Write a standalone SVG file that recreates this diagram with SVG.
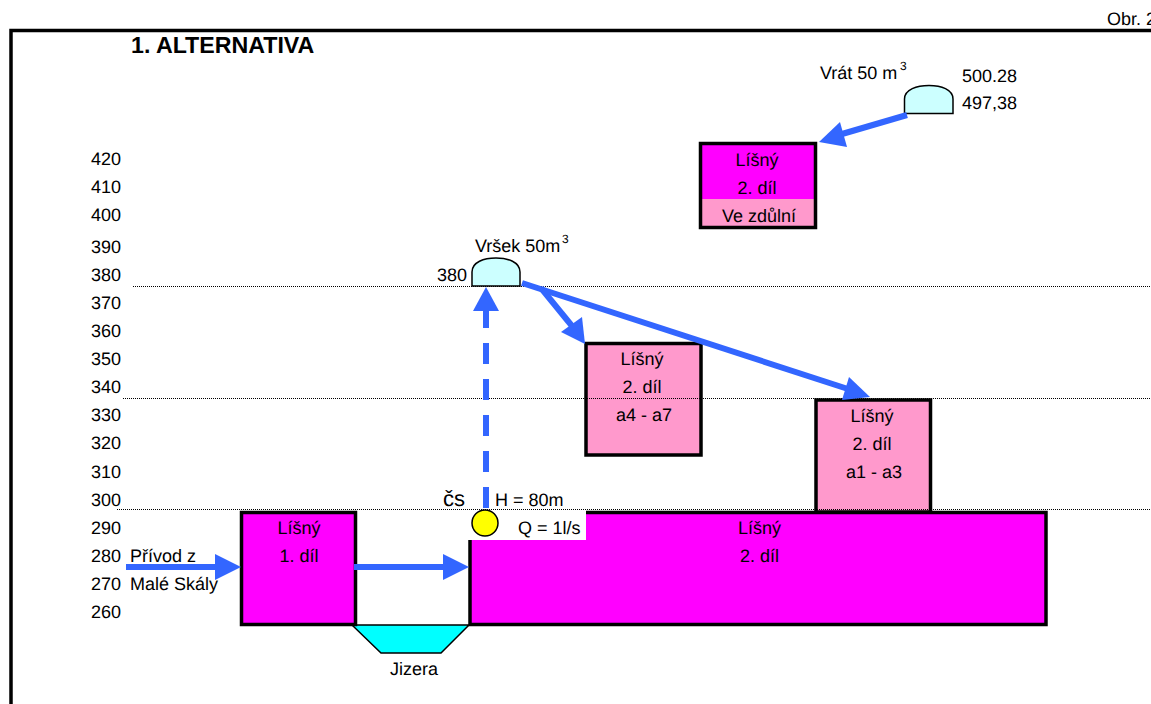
<svg xmlns="http://www.w3.org/2000/svg" width="1151" height="704" viewBox="0 0 1151 704">
<style>
text{font-family:"Liberation Sans",Arial,sans-serif;font-size:18px;fill:#000;text-rendering:geometricPrecision}
.m{text-anchor:middle}
.sup{font-size:12px}
.box{stroke:#000;stroke-width:3.5}
.mag{fill:#FF00FF}
.pink{fill:#FF99CC}
.tank{fill:#CCFFFF;stroke:#000;stroke-width:1.5}
.dot{stroke:#000;stroke-width:1.2;stroke-dasharray:1 1;fill:none}
.shaft{stroke:#3366FF;stroke-width:6;fill:none}
.head{fill:#3366FF}
</style>
<rect width="1151" height="704" fill="#fff"/>
<path id="frame" d="M11 704V30.5H1151" fill="none" stroke="#000" stroke-width="3.5"/>
<g id="title"><text x="131" y="52.5" style="font-size:23.2px;font-weight:bold">1. ALTERNATIVA</text><text x="1107" y="25">Obr. 2</text></g>
<g id="scale">
<text x="91" y="165">420</text><text x="91" y="193">410</text><text x="91" y="221">400</text><text x="91" y="253">390</text><text x="91" y="281">380</text><text x="91" y="309">370</text><text x="91" y="337">360</text><text x="91" y="365">350</text><text x="91" y="393">340</text><text x="91" y="421">330</text><text x="91" y="449">320</text><text x="91" y="477.5">310</text><text x="91" y="506">300</text><text x="91" y="534">290</text><text x="91" y="562">280</text><text x="91" y="590">270</text><text x="91" y="618">260</text>
</g>
<g id="jizera"><path d="M352 625L381 653H441L469 625Z" fill="#00FFFF" stroke="#000" stroke-width="1.5"/><text x="390" y="675">Jizera</text></g>
<g id="lisny-2-main"><rect class="box mag" x="470" y="512.5" width="576" height="112"/><rect x="468" y="510" width="118" height="30" fill="#fff"/><text class="m" x="759.5" y="534">Líšný</text><text class="m" x="759.5" y="562">2. díl</text></g>
<g id="lisny-1"><rect class="box mag" x="241.5" y="512.5" width="114" height="112"/><text class="m" x="299" y="534">Líšný</text><text class="m" x="299" y="562">1. díl</text></g>
<g id="lisny-a4-a7"><rect class="box pink" x="586" y="343.5" width="115" height="111.5"/><text class="m" x="642" y="365">Líšný</text><text class="m" x="642" y="393">2. díl</text><text class="m" x="644" y="421">a4 - a7</text></g>
<g id="lisny-a1-a3"><rect class="box pink" x="816" y="400" width="114.5" height="112"/><text class="m" x="872" y="422">Líšný</text><text class="m" x="872" y="450">2. díl</text><text class="m" x="874" y="478">a1 - a3</text></g>
<g id="lisny-ve-zdulni"><rect x="702" y="199" width="112" height="27" class="pink"/><rect x="702" y="144" width="112" height="55" class="mag"/><rect class="box" fill="none" x="700.5" y="143.5" width="115" height="84"/><text class="m" x="757" y="166">Líšný</text><text class="m" x="757" y="194">2. díl</text><text class="m" x="759" y="222">Ve zdůlní</text></g>
<g id="gridlines"><path class="dot" d="M133 286.5H1151M123 398.5H1151M117 509.5H1151"/></g>
<g id="tank-vrsek"><path class="tank" d="M472 286V272C472 262 484 258 496 258S520 262 520 272V286Z"/><text x="475" y="252">Vršek 50m</text><text class="sup" x="562" y="243">3</text><text x="437" y="281">380</text></g>
<g id="tank-vrat"><path class="tank" d="M904.5 113.5V99C904.5 89.500 917 85.500 929 85.500S953 89.500 953 99V113.500Z"/><text x="820" y="79">Vrát 50 m</text><text class="sup" x="900" y="70">3</text><text x="962" y="82">500.28</text><text x="962" y="109">497,38</text></g>
<g id="connectors">
<path class="shaft" d="M126 567H218"/><path class="head" d="M241 567L215 554V580Z"/>
<path class="shaft" d="M354 567H446"/><path class="head" d="M469 567L443 554V580Z"/>
<path class="shaft" d="M486 508V311" stroke-dasharray="21 15"/><path class="head" d="M486 287L473 311H499Z"/>
<path class="shaft" d="M541 288L572 326"/><path class="head" d="M585 344L561 332L582 317Z"/>
<path class="shaft" d="M522 283L848 389"/><path class="head" d="M870 397L849 377L842 400Z"/>
<path class="shaft" d="M907 115L842 134"/><path class="head" d="M819 142L840 122L847 147Z"/>
</g>
<g id="pump"><circle cx="485" cy="523" r="13" fill="#FFFF00" stroke="#000" stroke-width="1.5"/><text x="443" y="506" style="font-size:22px">čs</text><text x="495" y="506">H = 80m</text><text x="518" y="534">Q = 1l/s</text></g>
<g id="supply-label"><text x="130" y="562">Přívod z</text><text x="130" y="590">Malé Skály</text></g>
</svg>
